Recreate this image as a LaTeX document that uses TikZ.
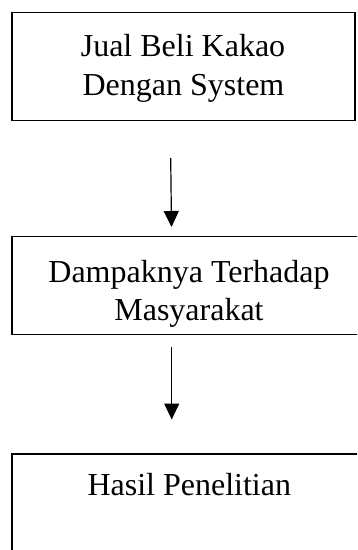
\documentclass[tikz,border=0pt]{standalone}
\usepackage{fontspec}
\setmainfont{Liberation Serif}
\usetikzlibrary{arrows.meta}
\begin{document}
\begin{tikzpicture}[x=1pt,y=-1pt,
  boxnode/.style={draw=black,line width=1.2pt,rectangle,inner sep=0pt,outer sep=0pt},
  txt/.style={anchor=base,inner sep=0pt,font=\fontsize{32}{38}\selectfont},
  flow/.style={line width=1.2pt,-{Triangle[length=16pt,width=15pt]}}]
\useasboundingbox (0,0) rectangle (357,550);
\clip (0,0) rectangle (357,550);
\fill[white] (0,0) rectangle (357,550);
% boxes
\node[boxnode,minimum width=343pt,minimum height=108.4pt] (b1) at (183.5,66.5) {};
\node[boxnode,minimum width=354pt,minimum height=97.6pt] (b2) at (189,285.5) {};
\node[boxnode,minimum width=354pt,minimum height=146pt] (b3) at (189,527) {};
% texts
\node[txt] (t1a) at (183,56.5) {Jual Beli Kakao};
\node[txt] (t1b) at (183.5,95) {Dengan System};
\node[txt] (t2a) at (189,282) {Dampaknya Terhadap};
\node[txt] (t2b) at (189,320.5) {Masyarakat};
\node[txt] (t3a) at (189.3,495) {Hasil Penelitian};
% arrows
\coordinate (a1s) at (170.7,158);
\coordinate (a1e) at (171.5,227);
\coordinate (a2s) at (171.7,346.7);
\coordinate (a2e) at (171.7,419.5);
\draw[flow] (a1s) -- (a1e);
\draw[flow] (a2s) -- (a2e);
\end{tikzpicture}
\end{document}
